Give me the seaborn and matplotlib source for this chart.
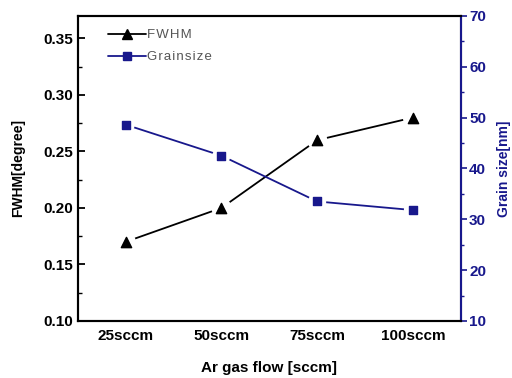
import matplotlib
matplotlib.use("Agg")
import matplotlib.pyplot as plt
from matplotlib.lines import Line2D
from matplotlib.ticker import MultipleLocator
import seaborn as sns
import pandas as pd

categories = ["25sccm", "50sccm", "75sccm", "100sccm"]
fwhm = [0.17, 0.20, 0.26, 0.28]
grain = [48.6, 42.5, 33.5, 31.8]

sns.set_style("white")
plt.rcParams['font.family'] = ['Liberation Sans', 'DejaVu Sans']
plt.rcParams['text.color'] = 'black'
plt.rcParams['axes.labelcolor'] = 'black'
plt.rcParams['xtick.color'] = 'black'
plt.rcParams['ytick.color'] = 'black'

navy = "#18188c"
df = pd.DataFrame({"pos": range(len(categories)), "fwhm": fwhm, "grain": grain})

fig = plt.figure(figsize=(5.12, 3.78), dpi=100)
ax = fig.add_axes([0.152, 0.151, 0.748, 0.807])
ax2 = ax.twinx()

sns.lineplot(data=df, x="pos", y="fwhm", ax=ax, color="black", lw=1.3, zorder=2)
ax.scatter(df["pos"], df["fwhm"], marker="o", s=210, color="white", edgecolors="none", zorder=5)
ax.scatter(df["pos"], df["fwhm"], marker="^", s=55, color="black", zorder=6)

sns.lineplot(data=df, x="pos", y="grain", ax=ax2, color=navy, lw=1.3, zorder=2)
ax2.scatter(df["pos"], df["grain"], marker="o", s=170, color="white", edgecolors="none", zorder=5)
ax2.scatter(df["pos"], df["grain"], marker="s", s=36, color=navy, zorder=6)

ax.set_xlim(-0.5, 3.5)
ax.set_ylim(0.10, 0.37)
ax2.set_ylim(10, 70)

ax.set_xticks(range(len(categories)))
ax.set_xticklabels(categories, fontsize=11, fontweight="bold")
ax.xaxis.set_minor_locator(MultipleLocator(0.25))
ax.yaxis.set_minor_locator(MultipleLocator(0.025))
ax.set_yticks([0.10, 0.15, 0.20, 0.25, 0.30, 0.35])
ax.set_yticklabels(["0.10", "0.15", "0.20", "0.25", "0.30", "0.35"], fontsize=11, fontweight="bold")
ax.tick_params(axis="both", which="major", direction="in", length=5, width=1.3, color="black")
ax.tick_params(axis="both", which="minor", direction="in", length=3, width=1.0, color="black")
ax.tick_params(axis="x", which="both", top=False, pad=6)
ax.tick_params(axis="y", which="both", right=False, left=True)

ax2.set_yticks([10, 20, 30, 40, 50, 60, 70])
ax2.set_yticklabels(["10", "20", "30", "40", "50", "60", "70"], fontsize=11, fontweight="bold", color=navy)
ax2.yaxis.set_minor_locator(MultipleLocator(5))
ax2.tick_params(axis="y", which="major", direction="out", length=4, width=1.2, color=navy, pad=2)
ax2.tick_params(axis="y", which="minor", direction="out", length=2.5, width=1.0, color=navy)

ax.set_xlabel("Ar gas flow [sccm]", fontsize=11, fontweight="bold", labelpad=13)
ax.set_ylabel("FWHM[degree]", fontsize=10, fontweight="bold", labelpad=13)
ax2.set_ylabel("Grain size[nm]", fontsize=10, fontweight="bold", color=navy, labelpad=8)

for sp in ax2.spines.values():
    sp.set_linewidth(1.5)
    sp.set_color("black")
ax2.spines["right"].set_color(navy)
for sp in ax.spines.values():
    sp.set_linewidth(1.5)
    sp.set_color("black")

handles = [
    Line2D([0], [0], color="black", marker="^", markersize=7, lw=1.3),
    Line2D([0], [0], color=navy, marker="s", markersize=6, lw=1.3),
]
hs = "\u200a"
leg = ax.legend(handles, [hs.join("FWHM"), hs.join("Grainsize")], loc="upper left", frameon=False,
                fontsize=9.5, bbox_to_anchor=(0.057, 0.983), handlelength=2.9,
                handletextpad=0.1, labelspacing=0.75, borderaxespad=0.2)
for t in leg.get_texts():
    t.set_color("#555555")

fig.savefig("out.png", dpi=100)
